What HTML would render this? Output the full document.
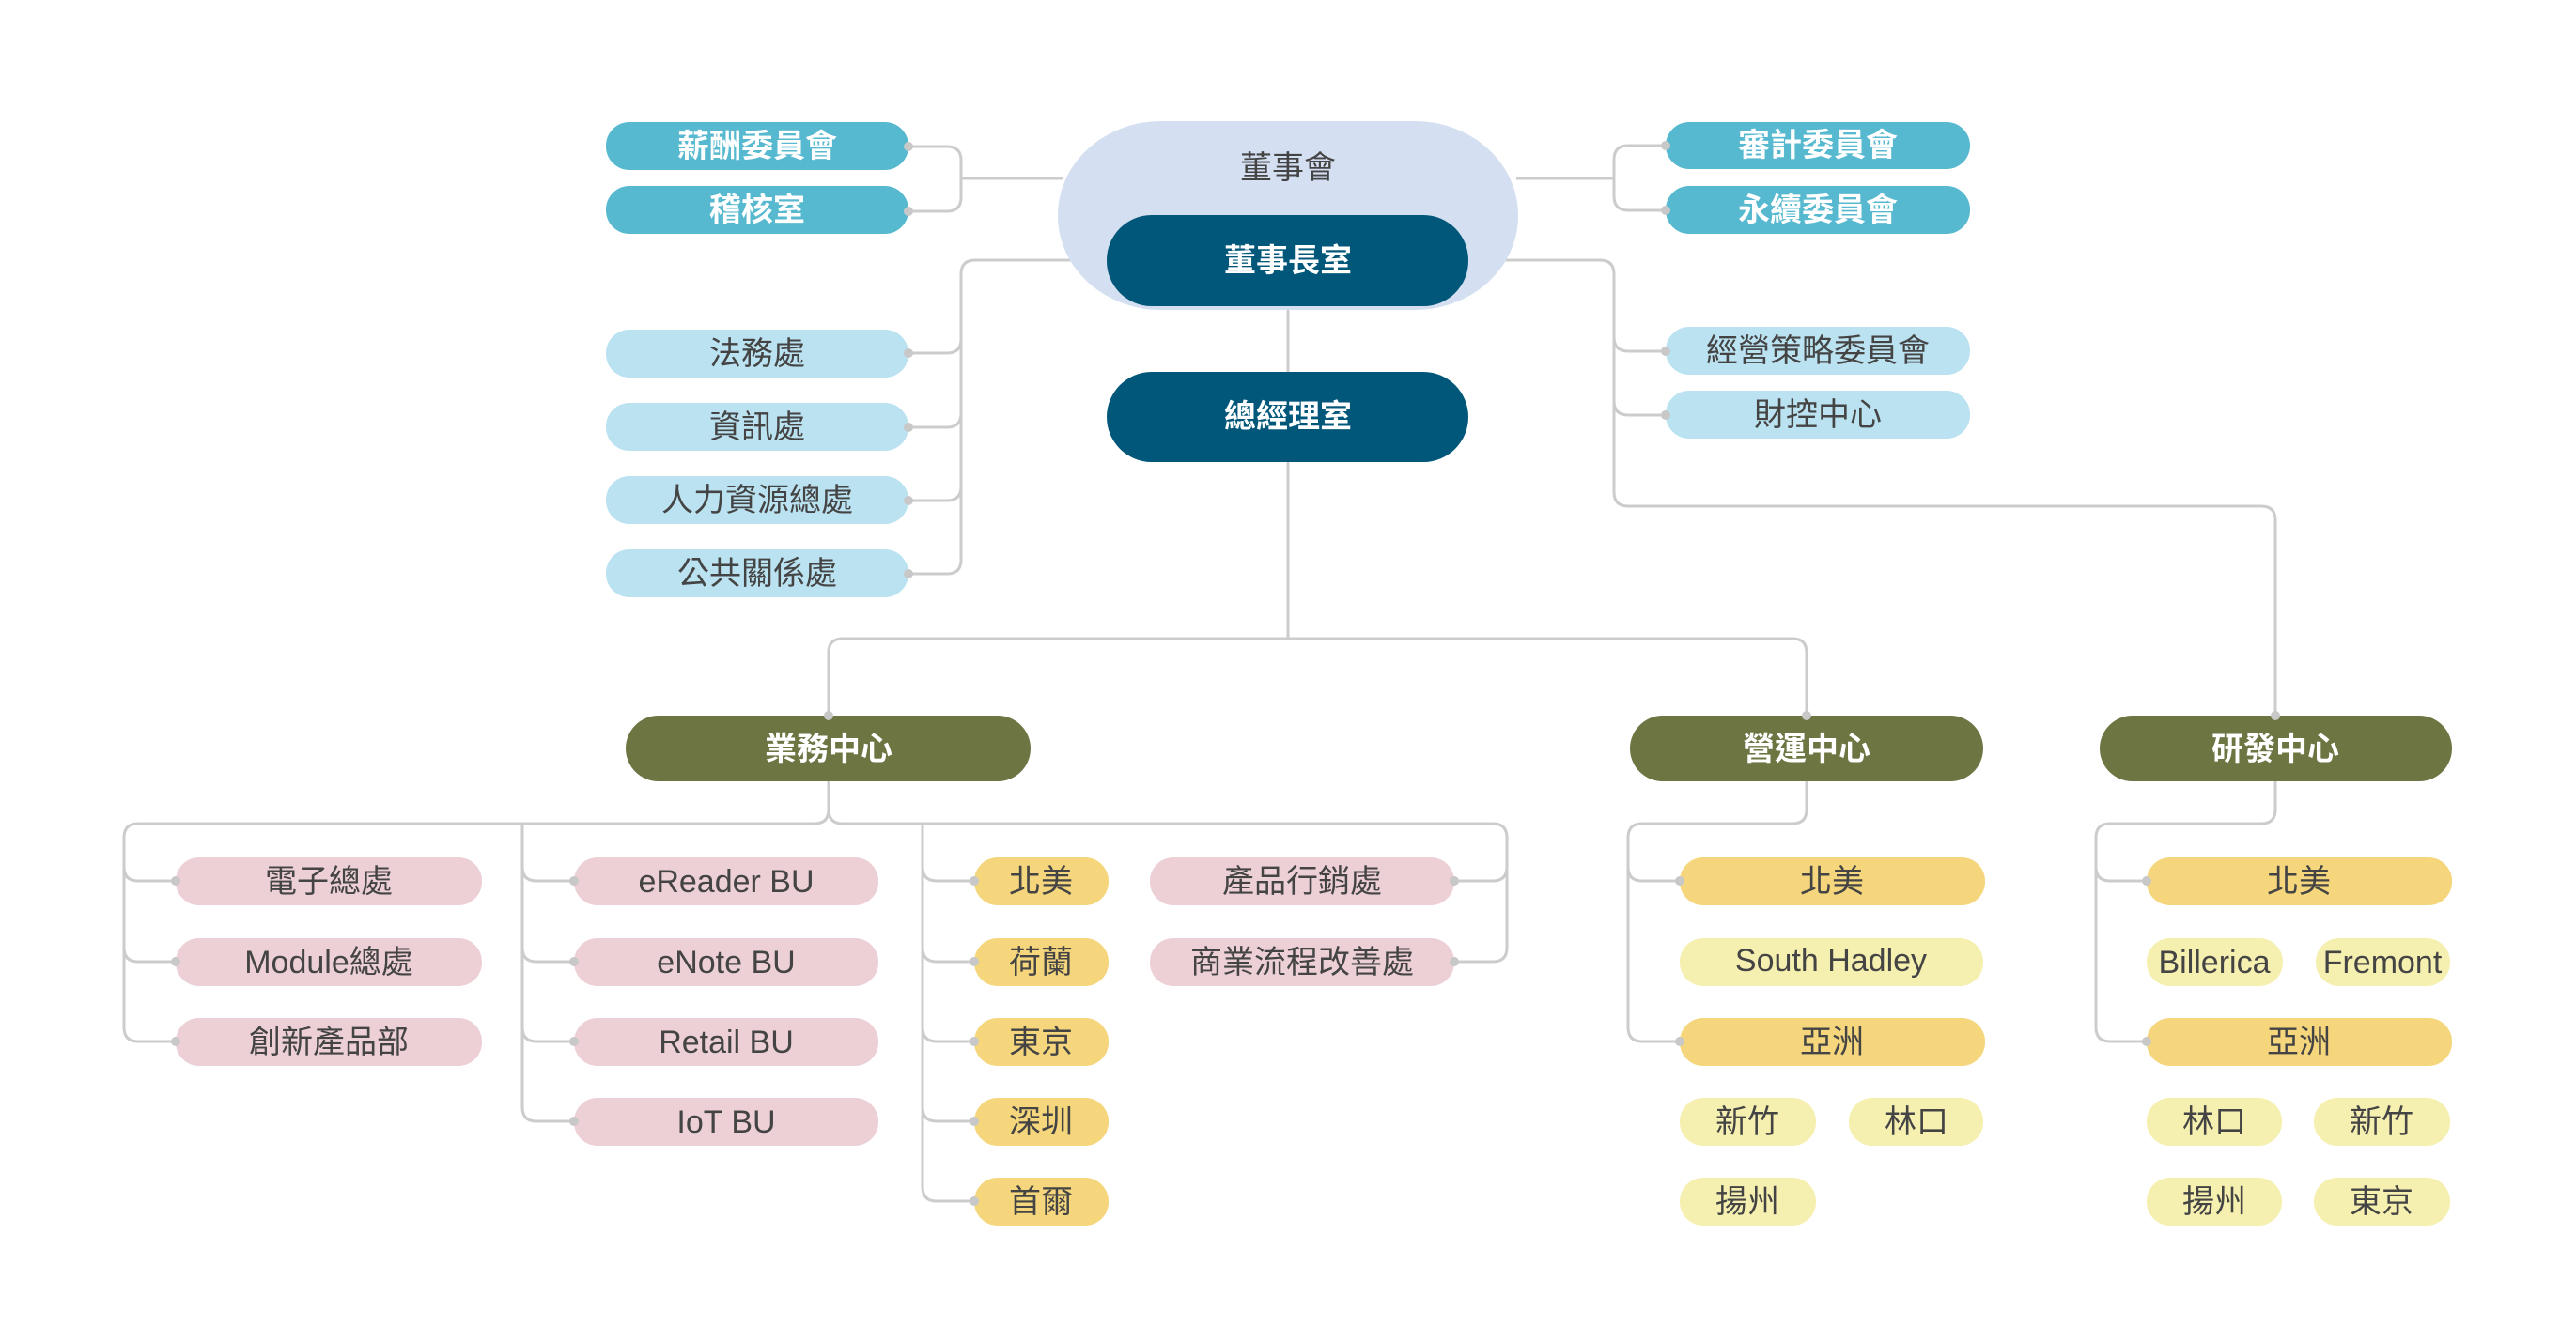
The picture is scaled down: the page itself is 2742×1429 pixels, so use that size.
<!DOCTYPE html>
<html><head><meta charset="utf-8"><style>
html,body{margin:0;padding:0;background:#fff;}
svg{display:block;}
text{font-family:"Liberation Sans","Noto Sans CJK TC",sans-serif;font-size:34px;text-anchor:middle;dominant-baseline:central;}
.w{fill:#fff;font-weight:bold;}
.d{fill:#444;}
</style></head><body>
<svg width="2742" height="1429" viewBox="0 0 2742 1429" xmlns="http://www.w3.org/2000/svg">
<g fill="none" stroke="#cccccc" stroke-width="3">
<path d="M1132,190 H1023 M1023,190 V171 Q1023,156 1008,156 H967 M1023,190 V210 Q1023,225 1008,225 H967"/>
<path d="M1614,190 H1718 M1718,190 V170 Q1718,155 1733,155 H1773 M1718,190 V209 Q1718,224 1733,224 H1773"/>
<path d="M1178,277 H1038 Q1023,277 1023,292 V596 Q1023,611 1008,611 H967 M1023,361 Q1023,376 1008,376 H967 M1023,440 Q1023,455 1008,455 H967 M1023,518 Q1023,533 1008,533 H967"/>
<path d="M1562,277 H1703 Q1718,277 1718,292 V524 Q1718,539 1733,539 H2407 Q2422,539 2422,554 V763 M1718,359 Q1718,374 1733,374 H1773 M1718,427 Q1718,442 1733,442 H1773"/>
<path d="M1371,327 V396 M1371,492 V680 M882,762 V695 Q882,680 897,680 H1908 Q1923,680 1923,695 V762"/>
<path d="M882,832 V862 Q882,877 867,877 H147 Q132,877 132,892 V1094 Q132,1109 147,1109 H187 M132,923 Q132,938 147,938 H187 M132,1009 Q132,1024 147,1024 H187"/>
<path d="M882,862 Q882,877 897,877 H1589 Q1604,877 1604,892 V1009 Q1604,1024 1589,1024 H1548 M1604,923 Q1604,938 1589,938 H1548"/>
<path d="M556,877 V1179 Q556,1194 571,1194 H611 M556,923 Q556,938 571,938 H611 M556,1009 Q556,1024 571,1024 H611 M556,1094 Q556,1109 571,1109 H611"/>
<path d="M982,877 V1264 Q982,1279 997,1279 H1037 M982,923 Q982,938 997,938 H1037 M982,1009 Q982,1024 997,1024 H1037 M982,1094 Q982,1109 997,1109 H1037 M982,1179 Q982,1194 997,1194 H1037"/>
<path d="M1923,832 V862 Q1923,877 1908,877 H1748 Q1733,877 1733,892 V1094 Q1733,1109 1748,1109 H1788 M1733,923 Q1733,938 1748,938 H1788"/>
<path d="M2422,832 V862 Q2422,877 2407,877 H2246 Q2231,877 2231,892 V1094 Q2231,1109 2246,1109 H2285 M2231,923 Q2231,938 2246,938 H2285"/>
</g>
<!-- top -->
<rect x="1126" y="129" width="490" height="201" rx="110" ry="100" fill="#d4e0f2"/>
<text x="1371" y="179" class="d">董事會</text>
<rect x="1178" y="229" width="385" height="97" rx="48" fill="#01577a"/>
<text x="1371" y="278" class="w">董事長室</text>
<rect x="1178" y="396" width="385" height="96" rx="48" fill="#01577a"/>
<text x="1371" y="444" class="w">總經理室</text>
<g fill="#56b9cf">
<rect x="645" y="130" width="322" height="51" rx="25"/><rect x="645" y="198" width="322" height="51" rx="25"/>
<rect x="1773" y="130" width="324" height="50" rx="25"/><rect x="1773" y="198" width="324" height="51" rx="25"/>
</g>
<text x="806" y="156" class="w">薪酬委員會</text><text x="806" y="224" class="w">稽核室</text>
<text x="1935" y="155" class="w">審計委員會</text><text x="1935" y="224" class="w">永續委員會</text>
<g fill="#bbe2f0">
<rect x="645" y="351" width="322" height="51" rx="25"/><rect x="645" y="429" width="322" height="51" rx="25"/>
<rect x="645" y="507" width="322" height="51" rx="25"/><rect x="645" y="585" width="322" height="51" rx="25"/>
<rect x="1773" y="348" width="324" height="51" rx="25"/><rect x="1773" y="416" width="324" height="51" rx="25"/>
</g>
<text x="806" y="377" class="d">法務處</text><text x="806" y="455" class="d">資訊處</text>
<text x="806" y="533" class="d">人力資源總處</text><text x="806" y="611" class="d">公共關係處</text>
<text x="1935" y="374" class="d">經營策略委員會</text><text x="1935" y="442" class="d">財控中心</text>
<!-- centers -->
<g fill="#6d7542">
<rect x="666" y="762" width="431" height="70" rx="35"/>
<rect x="1735" y="762" width="376" height="70" rx="35"/>
<rect x="2235" y="762" width="375" height="70" rx="35"/>
</g>
<text x="882" y="798" class="w">業務中心</text><text x="1923" y="798" class="w">營運中心</text><text x="2422" y="798" class="w">研發中心</text>
<!-- pink -->
<g fill="#ecd0d6">
<rect x="187" y="913" width="326" height="51" rx="25"/><rect x="187" y="999" width="326" height="51" rx="25"/><rect x="187" y="1084" width="326" height="51" rx="25"/>
<rect x="611" y="913" width="324" height="51" rx="25"/><rect x="611" y="999" width="324" height="51" rx="25"/><rect x="611" y="1084" width="324" height="51" rx="25"/><rect x="611" y="1169" width="324" height="51" rx="25"/>
<rect x="1224" y="913" width="324" height="51" rx="25"/><rect x="1224" y="999" width="324" height="51" rx="25"/>
</g>
<text x="350" y="939" class="d">電子總處</text><text x="350" y="1025" class="d">Module總處</text><text x="350" y="1110" class="d">創新產品部</text>
<text x="773" y="939" class="d">eReader BU</text><text x="773" y="1025" class="d">eNote BU</text><text x="773" y="1110" class="d">Retail BU</text><text x="773" y="1195" class="d">IoT BU</text>
<text x="1386" y="939" class="d">產品行銷處</text><text x="1386" y="1025" class="d">商業流程改善處</text>
<!-- yellow -->
<g fill="#f5d67c">
<rect x="1037" y="913" width="143" height="51" rx="25"/><rect x="1037" y="999" width="143" height="51" rx="25"/><rect x="1037" y="1084" width="143" height="51" rx="25"/><rect x="1037" y="1169" width="143" height="51" rx="25"/><rect x="1037" y="1254" width="143" height="51" rx="25"/>
<rect x="1788" y="913" width="325" height="51" rx="25"/><rect x="1788" y="1084" width="325" height="51" rx="25"/>
<rect x="2285" y="913" width="325" height="51" rx="25"/><rect x="2285" y="1084" width="325" height="51" rx="25"/>
</g>
<text x="1108" y="939" class="d">北美</text><text x="1108" y="1025" class="d">荷蘭</text><text x="1108" y="1110" class="d">東京</text><text x="1108" y="1195" class="d">深圳</text><text x="1108" y="1280" class="d">首爾</text>
<text x="1950" y="939" class="d">北美</text><text x="1950" y="1110" class="d">亞洲</text>
<text x="2447" y="939" class="d">北美</text><text x="2447" y="1110" class="d">亞洲</text>
<g fill="#f5efb0">
<rect x="1788" y="999" width="323" height="51" rx="25"/>
<rect x="1788" y="1169" width="145" height="51" rx="25"/><rect x="1968" y="1169" width="143" height="51" rx="25"/><rect x="1788" y="1254" width="145" height="51" rx="25"/>
<rect x="2285" y="999" width="145" height="51" rx="25"/><rect x="2465" y="999" width="143" height="51" rx="25"/>
<rect x="2285" y="1169" width="144" height="51" rx="25"/><rect x="2463" y="1169" width="145" height="51" rx="25"/>
<rect x="2285" y="1254" width="144" height="51" rx="25"/><rect x="2463" y="1254" width="145" height="51" rx="25"/>
</g>
<text x="1949" y="1023" class="d">South Hadley</text>
<text x="1860" y="1195" class="d">新竹</text><text x="2040" y="1195" class="d">林口</text><text x="1860" y="1280" class="d">揚州</text>
<text x="2357" y="1025" class="d">Billerica</text><text x="2536" y="1025" class="d">Fremont</text>
<text x="2357" y="1195" class="d">林口</text><text x="2535" y="1195" class="d">新竹</text>
<text x="2357" y="1280" class="d">揚州</text><text x="2535" y="1280" class="d">東京</text>
<!-- dots -->
<g fill="#c8c8c8">
<circle cx="967" cy="156" r="5"/><circle cx="967" cy="225" r="5"/><circle cx="1773" cy="155" r="5"/><circle cx="1773" cy="224" r="5"/>
<circle cx="967" cy="376" r="5"/><circle cx="967" cy="455" r="5"/><circle cx="967" cy="533" r="5"/><circle cx="967" cy="611" r="5"/>
<circle cx="1773" cy="374" r="5"/><circle cx="1773" cy="442" r="5"/>
<circle cx="882" cy="762" r="5"/><circle cx="1923" cy="762" r="5"/><circle cx="2422" cy="762" r="5"/>
<circle cx="187" cy="938" r="5"/><circle cx="187" cy="1024" r="5"/><circle cx="187" cy="1109" r="5"/>
<circle cx="611" cy="938" r="5"/><circle cx="611" cy="1024" r="5"/><circle cx="611" cy="1109" r="5"/><circle cx="611" cy="1194" r="5"/>
<circle cx="1037" cy="938" r="5"/><circle cx="1037" cy="1024" r="5"/><circle cx="1037" cy="1109" r="5"/><circle cx="1037" cy="1194" r="5"/><circle cx="1037" cy="1279" r="5"/>
<circle cx="1548" cy="938" r="5"/><circle cx="1548" cy="1024" r="5"/>
<circle cx="1788" cy="938" r="5"/><circle cx="1788" cy="1109" r="5"/><circle cx="2285" cy="938" r="5"/><circle cx="2285" cy="1109" r="5"/>
</g>
</svg>
</body></html>
